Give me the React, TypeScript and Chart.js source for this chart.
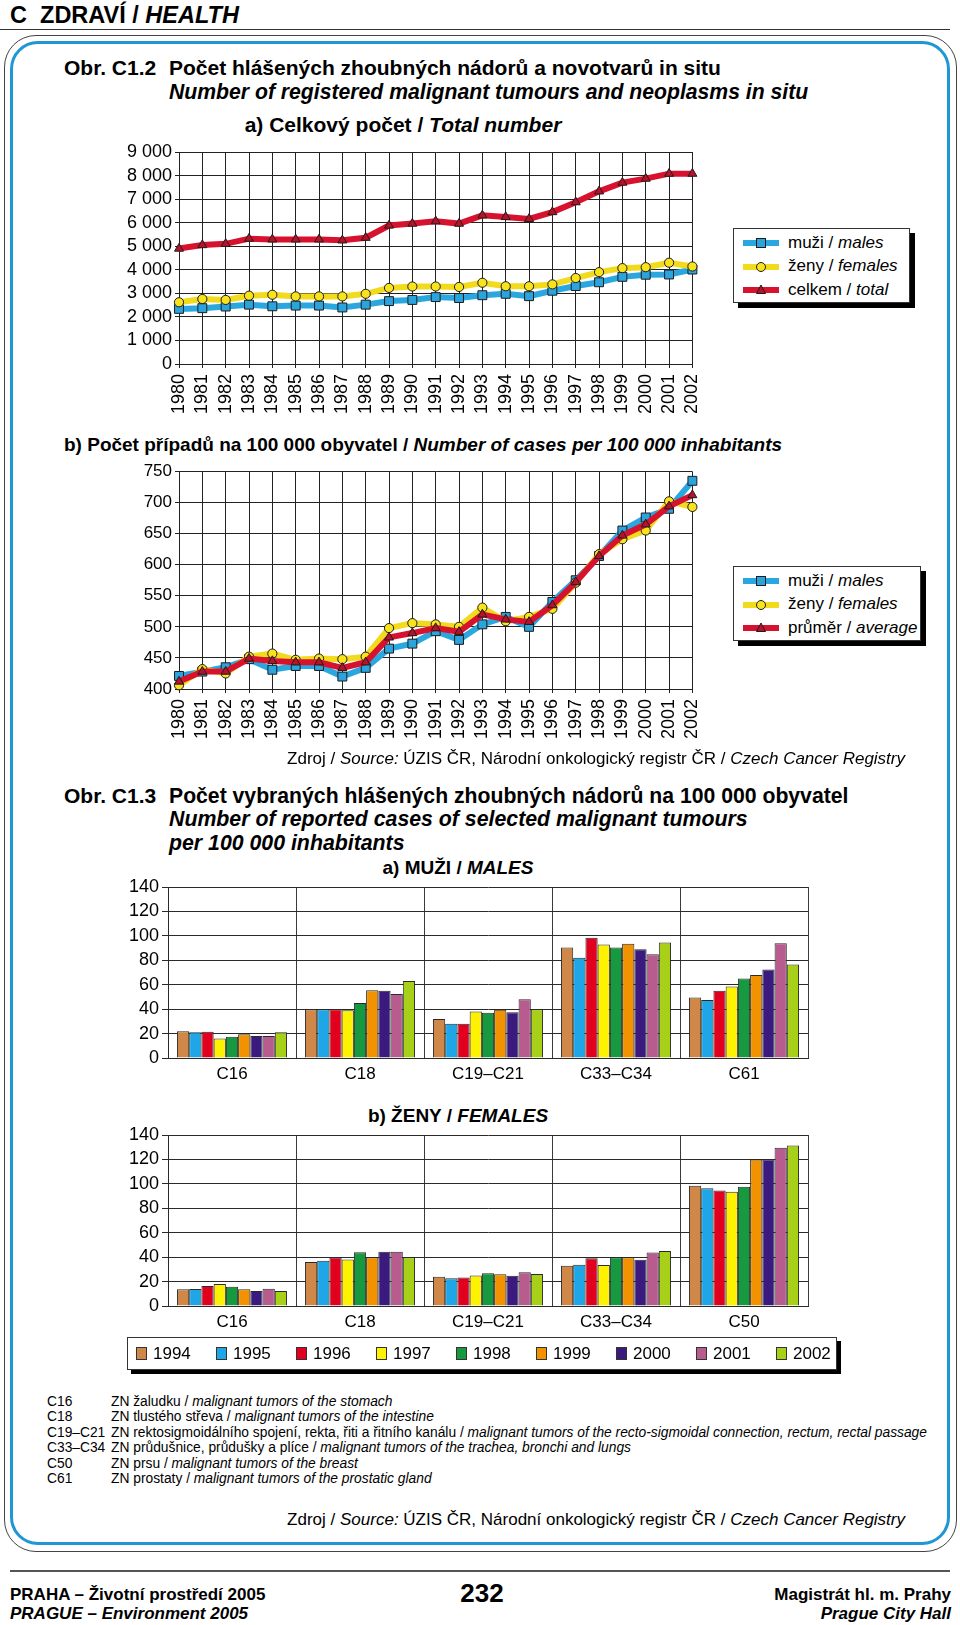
import React, { useEffect, useRef } from 'react';
import { Chart, registerables } from 'chart.js';

Chart.register(...registerables);

const FONT = '"Liberation Sans", Arial, Helvetica, sans-serif';

// ---------- Obr. C1.2 data ----------
const YEARS = ['1980', '1981', '1982', '1983', '1984', '1985', '1986', '1987', '1988', '1989', '1990', '1991', '1992', '1993', '1994', '1995', '1996', '1997', '1998', '1999', '2000', '2001', '2002'];

const TOTAL_MALES = [2340, 2370, 2440, 2520, 2450, 2480, 2480, 2400, 2520, 2670, 2720, 2840, 2800, 2920, 2980, 2880, 3110, 3310, 3470, 3700, 3790, 3800, 4010];
const TOTAL_FEMALES = [2620, 2760, 2720, 2900, 2940, 2870, 2870, 2870, 2980, 3230, 3290, 3290, 3270, 3450, 3300, 3300, 3380, 3650, 3900, 4070, 4110, 4300, 4140];
const TOTAL_ALL = [4900, 5050, 5100, 5320, 5290, 5290, 5290, 5250, 5360, 5880, 5960, 6060, 5960, 6310, 6240, 6160, 6450, 6870, 7330, 7700, 7870, 8080, 8080];

const RATE_MALES = [421, 428, 435, 448, 431, 437, 437, 420, 434, 465, 473, 493, 479, 504, 516, 500, 540, 575, 614, 655, 676, 690, 735];
const RATE_FEMALES = [406, 432, 425, 452, 457, 447, 449, 448, 452, 498, 506, 504, 500, 531, 509, 516, 529, 571, 617, 641, 655, 702, 693];
const RATE_AVG = [412, 428, 428, 449, 445, 443, 443, 434, 443, 483, 490, 498, 492, 520, 512, 508, 535, 572, 614, 647, 665, 694, 712];

const LEGEND_A = ['muži / |males', 'ženy / |females', 'celkem / |total'];
const LEGEND_B = ['muži / |males', 'ženy / |females', 'průměr / |average'];

// ---------- Obr. C1.3 data ----------
const MALE_SITES = ['C16', 'C18', 'C19–C21', 'C33–C34', 'C61'];
const FEMALE_SITES = ['C16', 'C18', 'C19–C21', 'C33–C34', 'C50'];
const BAR_YEARS = ['1994', '1995', '1996', '1997', '1998', '1999', '2000', '2001', '2002'];

const MALES_1994 = [22, 40, 32, 90.5, 49.5];
const MALES_1995 = [21, 40, 28, 82, 47.5];
const MALES_1996 = [21.5, 40, 28, 98.5, 55];
const MALES_1997 = [16, 39, 38, 93, 58.5];
const MALES_1998 = [17.5, 45, 37, 90.5, 65];
const MALES_1999 = [19.5, 55.5, 39.5, 93.5, 68];
const MALES_2000 = [18, 55, 37.5, 89, 72.5];
const MALES_2001 = [18, 52.5, 48, 85, 94];
const MALES_2002 = [21, 63, 40, 94.5, 76.5];

const FEMALES_1994 = [13.7, 36, 24, 33, 98.5];
const FEMALES_1995 = [14, 37, 22.8, 33.8, 96.5];
const FEMALES_1996 = [16.4, 39.7, 23.3, 39, 94.6];
const FEMALES_1997 = [18, 38, 25, 33.5, 93.6];
const FEMALES_1998 = [15.8, 44, 26.8, 40, 97.6];
const FEMALES_1999 = [13.7, 40, 26, 40, 120];
const FEMALES_2000 = [12.3, 44.5, 24.7, 37.8, 120];
const FEMALES_2001 = [14.2, 44.5, 27.6, 43.7, 129.5];
const FEMALES_2002 = [12.3, 40, 26.3, 45, 131.4];

const MALES_BY_YEAR = [MALES_1994, MALES_1995, MALES_1996, MALES_1997, MALES_1998, MALES_1999, MALES_2000, MALES_2001, MALES_2002];
const FEMALES_BY_YEAR = [FEMALES_1994, FEMALES_1995, FEMALES_1996, FEMALES_1997, FEMALES_1998, FEMALES_1999, FEMALES_2000, FEMALES_2001, FEMALES_2002];

const BAR_COLORS = ['#d08849', '#1ea6e6', '#e2001f', '#fff200', '#17993f', '#f39200', '#3b1a7d', '#b85b8e', '#a9d018'];

const NOTE_CODES = ['C16', 'C18', 'C19–C21', 'C33–C34', 'C50', 'C61'];
const NOTE_CZ = ['ZN žaludku / ', 'ZN tlustého střeva / ', 'ZN rektosigmoidálního spojení, rekta, řiti a řitního kanálu / ', 'ZN průdušnice, průdušky a plíce / ', 'ZN prsu / ', 'ZN prostaty / '];
const NOTE_EN = ['malignant tumors of the stomach', 'malignant tumors of the intestine', 'malignant tumors of the recto-sigmoidal connection, rectum, rectal passage', 'malignant tumors of the trachea, bronchi and lungs', 'malignant tumors of the breast', 'malignant tumors of the prostatic gland'];

// ---------- styles ----------
const BLUE_LINE = '#2aa7df';
const YELLOW_LINE = '#f2da1c';
const RED_LINE = '#d6122f';
const BLUE_PT = '#2ba3dc';
const YELLOW_PT = '#f8e31c';
const RED_PT = '#b8112b';
const GRID = '#222';

const fmtThousands = (v: number) => String(v).replace(/\B(?=(\d{3})+(?!\d))/g, ' ');

function lineConfig(males: number[], females: number[], third: number[], yMin: number, yMax: number, step: number, xAxisH: number, thousands: boolean, yFont: number): any {
  const common = { borderWidth: 6, tension: 0, clip: false as any, pointBorderColor: '#1d1d1d', pointBorderWidth: 1, pointHoverRadius: 5 };
  return {
    type: 'line',
    data: {
      labels: YEARS,
      datasets: [
        { ...common, label: 'males', data: males, borderColor: BLUE_LINE, backgroundColor: BLUE_PT, pointBackgroundColor: BLUE_PT, pointStyle: 'rect', pointRadius: 6.3, order: 3 },
        { ...common, label: 'females', data: females, borderColor: YELLOW_LINE, backgroundColor: YELLOW_PT, pointBackgroundColor: YELLOW_PT, pointStyle: 'circle', pointRadius: 4.6, order: 2 },
        { ...common, label: 'total', data: third, borderColor: RED_LINE, backgroundColor: RED_PT, pointBackgroundColor: RED_PT, pointStyle: 'triangle', pointRadius: 5.2, order: 1 },
      ],
    },
    options: {
      responsive: false,
      animation: false,
      devicePixelRatio: 1,
      events: [],
      layout: { padding: { top: 10, right: 15, left: 0, bottom: 0 } },
      plugins: { legend: { display: false }, tooltip: { enabled: false } },
      scales: {
        x: {
          grid: { color: GRID, lineWidth: 1, tickLength: 4 },
          border: { color: GRID, width: 1 },
          ticks: { color: '#000', font: { family: FONT, size: 18 }, minRotation: 90, maxRotation: 90, autoSkip: false, padding: 6 },
          afterFit: (s: any) => { s.height = xAxisH; },
        },
        y: {
          min: yMin,
          max: yMax,
          grid: { color: GRID, lineWidth: 1, tickLength: 4 },
          border: { color: GRID, width: 1 },
          ticks: { stepSize: step, autoSkip: false, color: '#000', font: { family: FONT, size: yFont, lineHeight: 1 }, padding: 3, callback: (v: any) => (thousands ? fmtThousands(v) : String(v)) },
          afterFit: (s: any) => { s.width = 79; },
        },
      },
    },
  };
}

function barConfig(sites: string[], byYear: number[][]): any {
  return {
    type: 'bar',
    data: {
      labels: sites,
      datasets: BAR_YEARS.map((y, i) => ({
        label: y,
        data: byYear[i],
        backgroundColor: BAR_COLORS[i],
        borderColor: '#2a2a2a',
        borderWidth: 1,
        categoryPercentage: 0.86,
        barPercentage: 1,
      })),
    },
    options: {
      responsive: false,
      animation: false,
      devicePixelRatio: 1,
      events: [],
      layout: { padding: { top: 10, right: 22, left: 0, bottom: 0 } },
      plugins: { legend: { display: false }, tooltip: { enabled: false } },
      scales: {
        x: {
          grid: { offset: true, color: '#3a3a3a', lineWidth: 1, tickLength: 0 },
          border: { color: '#2a2a2a', width: 1 },
          ticks: { color: '#000', font: { family: FONT, size: 17 }, padding: 6, autoSkip: false },
          afterFit: (s: any) => { s.height = 32; },
        },
        y: {
          min: 0,
          max: 140,
          grid: { color: '#2a2a2a', lineWidth: 1, tickLength: 6 },
          border: { color: '#2a2a2a', width: 1 },
          ticks: { stepSize: 20, autoSkip: false, color: '#000', font: { family: FONT, size: 18, lineHeight: 1 }, padding: 3 },
          afterFit: (s: any) => { s.width = 68; },
        },
      },
    },
  };
}

function ChartCanvas({ left, top, width, height, make }: { left: number; top: number; width: number; height: number; make: () => any }) {
  const ref = useRef<HTMLCanvasElement>(null);
  useEffect(() => {
    const chart = new Chart(ref.current as HTMLCanvasElement, make());
    return () => chart.destroy();
  }, []);
  return (
    <div style={{ position: 'absolute', left, top, width, height }}>
      <canvas ref={ref} width={width} height={height} style={{ width, height, display: 'block' }} />
    </div>
  );
}

type Align = 'left' | 'center' | 'right';
const txt = (x: number, cy: number, size: number, bold = false, italic = false, align: Align = 'left'): React.CSSProperties => {
  const lh = Math.round(size * 1.2);
  const s: React.CSSProperties = {
    position: 'absolute',
    top: cy - lh / 2,
    fontSize: size,
    lineHeight: lh + 'px',
    fontFamily: FONT,
    fontWeight: bold ? 700 : 400,
    fontStyle: italic ? 'italic' : 'normal',
    whiteSpace: 'nowrap',
    color: '#000',
  };
  if (align === 'center') {
    s.left = x - 450;
    s.width = 900;
    s.textAlign = 'center';
  } else if (align === 'right') {
    s.right = 960 - x;
    s.textAlign = 'right';
  } else {
    s.left = x;
  }
  return s;
};

function Marker({ kind, line, fill }: { kind: string; line: string; fill: string }) {
  return (
    <svg width={36} height={14} style={{ position: 'absolute', left: 0, top: 0 }}>
      <line x1={0} y1={7} x2={36} y2={7} stroke={line} strokeWidth={6} />
      {kind === 'rect' && <rect x={13.5} y={2.5} width={9} height={9} fill={fill} stroke="#1d1d1d" strokeWidth={1} />}
      {kind === 'circle' && <circle cx={18} cy={7} r={4.5} fill={fill} stroke="#1d1d1d" strokeWidth={1} />}
      {kind === 'triangle' && <polygon points="18,2 22.5,10.5 13.5,10.5" fill={fill} stroke="#1d1d1d" strokeWidth={1} />}
    </svg>
  );
}

function LineLegend({ left, top, width, labels }: { left: number; top: number; width: number; labels: string[] }) {
  const kinds = [
    { kind: 'rect', line: BLUE_LINE, fill: BLUE_PT },
    { kind: 'circle', line: YELLOW_LINE, fill: YELLOW_PT },
    { kind: 'triangle', line: RED_LINE, fill: RED_PT },
  ];
  return (
    <div style={{ position: 'absolute', left, top, width, height: 75, background: '#fff', border: '1px solid #333', boxSizing: 'border-box', boxShadow: '5px 5px 0 #000' }}>
      {labels.map((l, i) => {
        const [cz, en] = l.split('|');
        return (
          <div key={i} style={{ position: 'absolute', left: 9, top: 7 + i * 23.5, height: 14, width: width - 12 }}>
            <Marker {...kinds[i]} />
            <div style={{ position: 'absolute', left: 45, top: -3.5, fontFamily: FONT, fontSize: 17, lineHeight: '20px', whiteSpace: 'nowrap' }}>
              {cz}
              <i>{en}</i>
            </div>
          </div>
        );
      })}
    </div>
  );
}

function BarLegend() {
  return (
    <div style={{ position: 'absolute', left: 127, top: 1337, width: 710, height: 33, background: '#fff', border: '1px solid #333', boxSizing: 'border-box', boxShadow: '4px 4px 0 #000' }}>
      {BAR_YEARS.map((y, i) => (
        <div key={y} style={{ position: 'absolute', left: 8 + i * 80, top: 0, height: 31 }}>
          <div style={{ position: 'absolute', left: 0, top: 9, width: 11, height: 13, background: BAR_COLORS[i], border: '1px solid #333', boxSizing: 'border-box' }} />
          <div style={{ position: 'absolute', left: 17, top: 5.5, fontFamily: FONT, fontSize: 17, lineHeight: '20px' }}>{y}</div>
        </div>
      ))}
    </div>
  );
}

function Source({ cy }: { cy: number }) {
  return (
    <div style={txt(905, cy, 17, false, false, 'right')}>
      Zdroj / <i>Source:</i> ÚZIS ČR, Národní onkologický registr ČR / <i>Czech Cancer Registry</i>
    </div>
  );
}

export default function App() {
  useEffect(() => {
    document.body.style.margin = '0';
  }, []);
  return (
    <div style={{ position: 'absolute', left: 0, top: 0, width: 960, height: 1625, background: '#fff', overflow: 'hidden', fontFamily: FONT }}>
      {/* header */}
      <div style={txt(10, 15, 23.5, true)}>
        C&nbsp;&nbsp;ZDRAVÍ / <i>HEALTH</i>
      </div>
      <div style={{ position: 'absolute', left: 0, top: 29, width: 950, height: 1, background: '#333' }} />

      {/* frame */}
      <div style={{ position: 'absolute', left: 4, top: 35, width: 953, height: 1517, border: '1.5px solid #444', borderRadius: 32, boxSizing: 'border-box' }} />
      <div style={{ position: 'absolute', left: 10, top: 41, width: 940, height: 1504, border: '3px solid #1f97d5', borderRadius: 28, boxSizing: 'border-box' }} />

      {/* Obr. C1.2 */}
      <div style={txt(64, 67, 21, true)}>Obr. C1.2</div>
      <div style={txt(169, 67, 21, true)}>Počet hlášených zhoubných nádorů a novotvarů in situ</div>
      <div style={txt(169, 91, 21.2, true, true)}>Number of registered malignant tumours and neoplasms in situ</div>
      <div style={txt(403, 124, 21, true, false, 'center')}>
        a) Celkový počet / <i>Total number</i>
      </div>

      <ChartCanvas left={100} top={140} width={620} height={290} make={() => lineConfig(TOTAL_MALES, TOTAL_FEMALES, TOTAL_ALL, 0, 9000, 1000, 66, true, 18)} />
      <LineLegend left={733} top={228} width={177} labels={LEGEND_A} />

      <div style={txt(64, 444, 19, true)}>
        b) Počet případů na 100 000 obyvatel / <i>Number of cases per 100 000 inhabitants</i>
      </div>
      <ChartCanvas left={100} top={460} width={620} height={290} make={() => lineConfig(RATE_MALES, RATE_FEMALES, RATE_AVG, 400, 750, 50, 61, false, 17)} />
      <LineLegend left={733} top={566} width={188} labels={LEGEND_B} />

      <Source cy={759} />

      {/* Obr. C1.3 */}
      <div style={txt(64, 795, 21, true)}>Obr. C1.3</div>
      <div style={txt(169, 795, 21.2, true)}>Počet vybraných hlášených zhoubných nádorů na 100 000 obyvatel</div>
      <div style={txt(169, 819, 21.3, true, true)}>Number of reported cases of selected malignant tumours</div>
      <div style={txt(169, 843, 21.3, true, true)}>per 100 000 inhabitants</div>

      <div style={txt(458, 867, 19, true, false, 'center')}>
        a) MUŽI / <i>MALES</i>
      </div>
      <ChartCanvas left={100} top={875} width={730} height={215} make={() => barConfig(MALE_SITES, MALES_BY_YEAR)} />

      <div style={txt(458, 1115, 19, true, false, 'center')}>
        b) ŽENY / <i>FEMALES</i>
      </div>
      <ChartCanvas left={100} top={1123} width={730} height={215} make={() => barConfig(FEMALE_SITES, FEMALES_BY_YEAR)} />

      <BarLegend />

      {/* notes */}
      {NOTE_CODES.map((c, i) => (
        <React.Fragment key={c}>
          <div style={txt(47, 1401 + i * 15.5, 13.8)}>{c}</div>
          <div style={txt(111, 1401 + i * 15.5, 13.8)}>
            {NOTE_CZ[i]}
            <i>{NOTE_EN[i]}</i>
          </div>
        </React.Fragment>
      ))}

      <Source cy={1520} />

      {/* footer */}
      <div style={{ position: 'absolute', left: 10, top: 1570, width: 940, height: 2, background: '#555' }} />
      <div style={txt(10, 1594.5, 17, true)}>PRAHA – Životní prostředí 2005</div>
      <div style={txt(10, 1614, 17, true, true)}>PRAGUE – Environment 2005</div>
      <div style={txt(482, 1593.5, 26, true, false, 'center')}>232</div>
      <div style={txt(951, 1594.5, 17, true, false, 'right')}>Magistrát hl. m. Prahy</div>
      <div style={txt(951, 1614, 17, true, true, 'right')}>Prague City Hall</div>
    </div>
  );
}
